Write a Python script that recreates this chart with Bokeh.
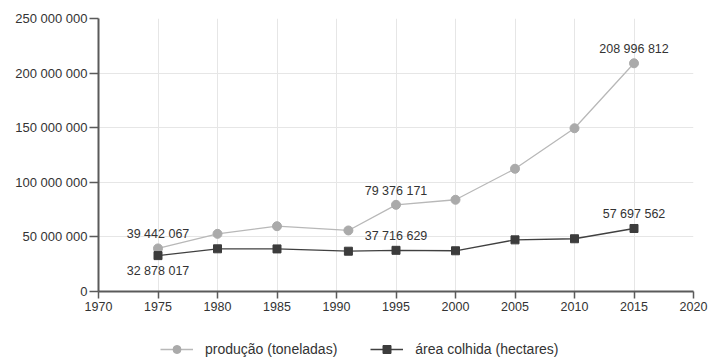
from bokeh.plotting import figure
from bokeh.layouts import column
from bokeh.models import ColumnDataSource, CustomJSTickFormatter, FixedTicker, Legend, LegendItem, Range1d
from bokeh.core.properties import value
from bokeh.embed import file_html
from bokeh.resources import INLINE

years = [1975, 1980, 1985, 1991, 1995, 2000, 2005, 2010, 2015]
producao = [39442067, 52800000, 59800000, 55900000, 79376171, 84000000, 112400000, 149500000, 208996812]
area = [32878017, 39100000, 39000000, 36900000, 37716629, 37300000, 47300000, 48300000, 57697562]

prod_label_idx = [0, 4, 8]
area_label_idx = [4, 8]
area_label_below_idx = [0]

x_ticks = [1970, 1975, 1980, 1985, 1990, 1995, 2000, 2005, 2010, 2015, 2020]
y_ticks = [0, 50000000, 100000000, 150000000, 200000000, 250000000]

series_names = ["produção (toneladas)", "área colhida (hectares)"]

FONT = "Liberation Sans"
PROD_LINE, PROD_MARK = "#b8b8b8", "#aaaaaa"
AREA_LINE, AREA_MARK = "#404040", "#3c3c3c"

def fmt(v):
    return f"{int(v):,}".replace(",", " ")

p = figure(width=709, height=319, output_backend="svg", toolbar_location=None,
           x_range=Range1d(1970, 2020), y_range=Range1d(0, 250000000),
           min_border_left=98, min_border_right=16, min_border_top=18, min_border_bottom=28)
p.outline_line_color = None
p.background_fill_color = "white"

src_p = ColumnDataSource(dict(x=years, y=producao))
src_a = ColumnDataSource(dict(x=years, y=area))

p.line("x", "y", source=src_p, line_color=PROD_LINE, line_width=1.3)
p.scatter("x", "y", source=src_p, marker="circle", size=9, fill_color=PROD_MARK, line_color=PROD_MARK)
p.line("x", "y", source=src_a, line_color=AREA_LINE, line_width=1.3)
p.scatter("x", "y", source=src_a, marker="square", size=8, fill_color=AREA_MARK, line_color=AREA_MARK)

lab_above = ColumnDataSource(dict(
    x=[years[i] for i in prod_label_idx] + [years[i] for i in area_label_idx],
    y=[producao[i] for i in prod_label_idx] + [area[i] for i in area_label_idx],
    t=[fmt(producao[i]) for i in prod_label_idx] + [fmt(area[i]) for i in area_label_idx],
))
p.text("x", "y", text="t", source=lab_above, text_align="center", text_baseline="bottom",
       y_offset=-7, text_font=value(FONT), text_font_size="12.5px", text_color="#333333")
lab_below = ColumnDataSource(dict(
    x=[years[i] for i in area_label_below_idx],
    y=[area[i] for i in area_label_below_idx],
    t=[fmt(area[i]) for i in area_label_below_idx],
))
p.text("x", "y", text="t", source=lab_below, text_align="center", text_baseline="top",
       y_offset=8, text_font=value(FONT), text_font_size="12.5px", text_color="#333333")

for ax in (p.xaxis[0], p.yaxis[0]):
    ax.axis_line_color = "#5a5a5a"
    ax.axis_line_width = 2
    ax.major_tick_line_color = "#5a5a5a"
    ax.major_tick_line_width = 1.5
    ax.major_tick_out = 7
    ax.major_tick_in = 0
    ax.minor_tick_line_color = None
    ax.major_label_text_font = FONT
    ax.major_label_text_color = "#333333"

p.xaxis.major_label_text_font_size = "12.5px"
p.yaxis.major_label_text_font_size = "13px"
p.yaxis.major_tick_out = 9
p.xaxis.ticker = FixedTicker(ticks=x_ticks)
p.yaxis.ticker = FixedTicker(ticks=y_ticks)
p.yaxis.formatter = CustomJSTickFormatter(code="return Math.round(tick).toString().replace(/\\B(?=(\\d{3})+(?!\\d))/g, ' ');")
p.xaxis.major_label_standoff = 3
p.yaxis.major_label_standoff = 2

p.xgrid.grid_line_color = "#e6e6e6"
p.ygrid.grid_line_color = "#e6e6e6"
p.xgrid.ticker = FixedTicker(ticks=x_ticks[1:])
p.ygrid.ticker = FixedTicker(ticks=y_ticks[1:-1])

# legend strip below the chart (its renderers hold one off-screen point so the legend can draw them)
pl = figure(width=709, height=40, output_backend="svg", toolbar_location=None,
            x_range=Range1d(0, 1), y_range=Range1d(0, 1), x_axis_type=None, y_axis_type=None,
            min_border_left=0, min_border_right=0, min_border_top=0, min_border_bottom=0)
pl.outline_line_color = None
pl.xgrid.visible = False
pl.ygrid.visible = False
offscreen = dict(x=[-10], y=[-10])
g1 = pl.line(x="x", y="y", source=ColumnDataSource(offscreen), line_color=PROD_LINE, line_width=1.3)
g2 = pl.scatter(x="x", y="y", source=ColumnDataSource(offscreen), marker="circle", size=9, fill_color=PROD_MARK, line_color=PROD_MARK)
g3 = pl.line(x="x", y="y", source=ColumnDataSource(offscreen), line_color=AREA_LINE, line_width=1.3)
g4 = pl.scatter(x="x", y="y", source=ColumnDataSource(offscreen), marker="square", size=8, fill_color=AREA_MARK, line_color=AREA_MARK)

legend = Legend(items=[
    LegendItem(label=series_names[0], renderers=[g1, g2]),
    LegendItem(label=series_names[1], renderers=[g3, g4]),
], orientation="horizontal", location=(62, 0))
legend.border_line_color = None
legend.background_fill_alpha = 0
legend.label_text_font = FONT
legend.label_text_font_size = "14px"
legend.label_text_color = "#333333"
legend.glyph_width = 33
legend.label_standoff = 12
legend.spacing = 33
legend.margin = 0
legend.padding = 0
pl.add_layout(legend, "center")

open("out.html", "w").write(file_html(column(p, pl), INLINE))
